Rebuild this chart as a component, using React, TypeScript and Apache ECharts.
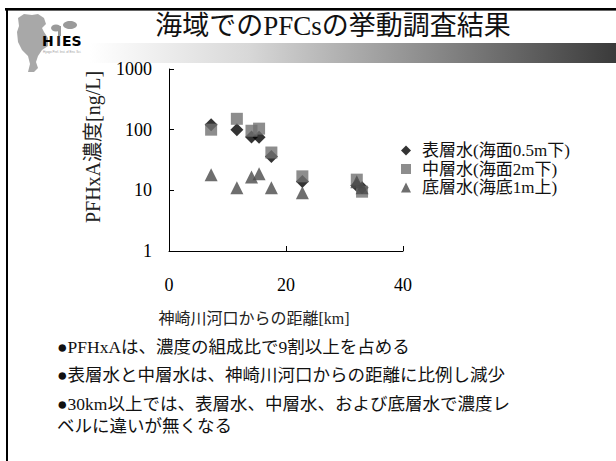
import React, { useEffect, useRef } from "react";
import * as echarts from "echarts";

const seriesNames = ["表層水(海面0.5m下)", "中層水(海面2m下)", "底層水(海底1m上)"];
const distances = [7.2, 11.6, 14.1, 15.4, 17.5, 22.8, 32.1, 33.0];
const surfaceValues = [120, 100, 76, 75, 36, 14, 12, 11];
const middleValues = [100, 151, 96, 104, 42, 17, 15, 9.5];
const bottomValues = [18, 11, 16.6, 18.7, 11, 9.1, 13.8, 11];
const xTicks = [0, 20, 40];
const yTicks = [1, 10, 100, 1000];
const titleText = "海域でのPFCsの挙動調査結果";
const xAxisTitle = "神崎川河口からの距離[km]";
const yAxisTitle = "PFHxA濃度[ng/L]";
const bullets = [
  "●PFHxAは、濃度の組成比で9割以上を占める",
  "●表層水と中層水は、神崎川河口からの距離に比例し減少",
  "●30km以上では、表層水、中層水、および底層水で濃度レ",
  "ベルに違いが無くなる",
];

const FONT = "'Liberation Serif', 'Noto Sans CJK JP', serif";

export default function App() {
  const ref = useRef<HTMLDivElement>(null);
  useEffect(() => {
    document.body.style.margin = "0";
    const chart = echarts.init(ref.current!, null, { renderer: "svg" });
    const pts = (vals: number[]) => distances.map((d, i) => [d, vals[i]]);
    const bulletY = [347, 375, 404, 426];
    chart.setOption({
      animation: false,
      backgroundColor: "#fff",
      textStyle: { fontFamily: FONT },
      grid: { left: 169, top: 69, right: 213, bottom: 210 },
      xAxis: {
        type: "value",
        min: xTicks[0],
        max: xTicks[xTicks.length - 1],
        interval: 20,
        splitLine: { show: false },
        axisLine: { lineStyle: { color: "#000", width: 1 } },
        axisTick: { inside: true, length: 5, lineStyle: { color: "#000" } },
        axisLabel: { color: "#000", fontSize: 18, fontFamily: FONT, margin: 25 },
      },
      yAxis: {
        type: "log",
        logBase: 10,
        min: yTicks[0],
        max: yTicks[yTicks.length - 1],
        splitLine: { show: false },
        axisLine: { show: true, lineStyle: { color: "#000", width: 1 } },
        axisTick: { show: true, inside: true, length: 5, lineStyle: { color: "#000" } },
        minorTick: { show: false },
        axisLabel: {
          color: "#000",
          fontSize: 18,
          fontFamily: FONT,
          margin: 17,
          formatter: (v: number) => String(Math.round(v)),
        },
      },
      legend: {
        orient: "vertical",
        left: 396,
        top: 137,
        itemWidth: 10,
        itemHeight: 10,
        itemGap: 1.5,
        textStyle: {
          color: "#111",
          fontSize: 17,
          lineHeight: 17,
          fontFamily: FONT,
          padding: [0, 0, 0, 6],
        },
        data: [
          { name: seriesNames[0], icon: "diamond", itemStyle: { color: "#000" } },
          { name: seriesNames[1], icon: "rect", itemStyle: { color: "#707070" } },
          { name: seriesNames[2], icon: "triangle", itemStyle: { color: "#4a4a4a" } },
        ],
      },
      series: [
        {
          name: seriesNames[0],
          type: "scatter",
          symbol: "diamond",
          symbolSize: 13,
          itemStyle: { color: "#000" },
          data: pts(surfaceValues),
        },
        {
          name: seriesNames[1],
          type: "scatter",
          symbol: "rect",
          symbolSize: 12,
          itemStyle: { color: "#707070" },
          data: pts(middleValues),
        },
        {
          name: seriesNames[2],
          type: "scatter",
          symbol: "triangle",
          symbolSize: 13,
          itemStyle: { color: "#4a4a4a" },
          data: pts(bottomValues),
        },
      ],
      graphic: [
        {
          type: "rect",
          shape: { x: 90, y: 43, width: 526, height: 20 },
          style: {
            fill: new echarts.graphic.LinearGradient(0, 0, 1, 0, [
              { offset: 0, color: "#ffffff" },
              { offset: 0.3, color: "#d8d8d8" },
              { offset: 0.65, color: "#8a8a8a" },
              { offset: 1, color: "#3a3a3a" },
            ]),
          },
          z: -10,
        },
        {
          type: "rect",
          shape: { x: 5, y: 8, width: 611, height: 2 },
          style: { fill: "#000" },
        },
        {
          type: "rect",
          shape: { x: 5, y: 10, width: 611, height: 1 },
          style: { fill: "#666" },
        },
        {
          type: "rect",
          shape: { x: 6, y: 8, width: 2, height: 453 },
          style: { fill: "#000" },
        },
        // logo
        {
          type: "polygon",
          shape: {
            points: [
              [18, 18], [24, 14], [32, 15], [38, 14], [44, 18], [46, 24], [42, 28],
              [44, 32], [48, 38], [48, 46], [42, 50], [38, 56], [36, 62], [38, 68],
              [34, 72], [28, 72], [30, 64], [28, 56], [22, 50], [18, 42], [17, 32],
              [19, 26],
            ],
          },
          style: { fill: "#a8a8a8" },
        },
        {
          type: "ellipse",
          shape: { cx: 56, cy: 28, rx: 5, ry: 3.5 },
          style: { fill: "#9a9a9a" },
        },
        {
          type: "ellipse",
          shape: { cx: 70, cy: 25, rx: 7, ry: 4 },
          style: { fill: "#9a9a9a" },
        },
        {
          type: "rect",
          shape: { x: 58, y: 26, width: 3, height: 10 },
          style: { fill: "#9a9a9a" },
        },
        {
          type: "text",
          x: 42,
          y: 34,
          style: {
            text: "H",
            fill: "#000",
            font: "bold 14px 'DejaVu Sans', sans-serif",
          },
        },
        {
          type: "text",
          x: 56,
          y: 34,
          style: {
            text: "I",
            fill: "#222",
            font: "bold 14px 'DejaVu Sans', sans-serif",
          },
        },
        {
          type: "text",
          x: 62,
          y: 34,
          style: {
            text: "ES",
            fill: "#000",
            font: "bold 14px 'DejaVu Sans', sans-serif",
          },
        },
        {
          type: "text",
          x: 43,
          y: 50,
          style: { text: "Hyogo Pref. Inst. of Env. Sci.", fill: "#999", font: "3px sans-serif" },
        },
        {
          type: "text",
          x: 333,
          y: 26,
          style: {
            text: titleText,
            fill: "#111",
            font: `27px ${FONT}`,
            align: "center",
            verticalAlign: "middle",
          },
        },
        {
          type: "text",
          x: 93,
          y: 147,
          rotation: Math.PI / 2,
          style: {
            text: yAxisTitle,
            fill: "#222",
            font: `20px ${FONT}`,
            align: "center",
            verticalAlign: "middle",
          },
        },
        {
          type: "text",
          x: 254,
          y: 318,
          style: {
            text: xAxisTitle,
            fill: "#222",
            font: `16px ${FONT}`,
            align: "center",
            verticalAlign: "middle",
          },
        },
        ...bullets.map((b, i) => ({
          type: "text",
          x: 57,
          y: bulletY[i],
          style: {
            text: b,
            fill: "#111",
            font: `17.5px ${FONT}`,
            verticalAlign: "middle",
          },
        })),
      ],
    });
    return () => chart.dispose();
  }, []);
  return <div ref={ref} style={{ width: 616, height: 461 }} />;
}
